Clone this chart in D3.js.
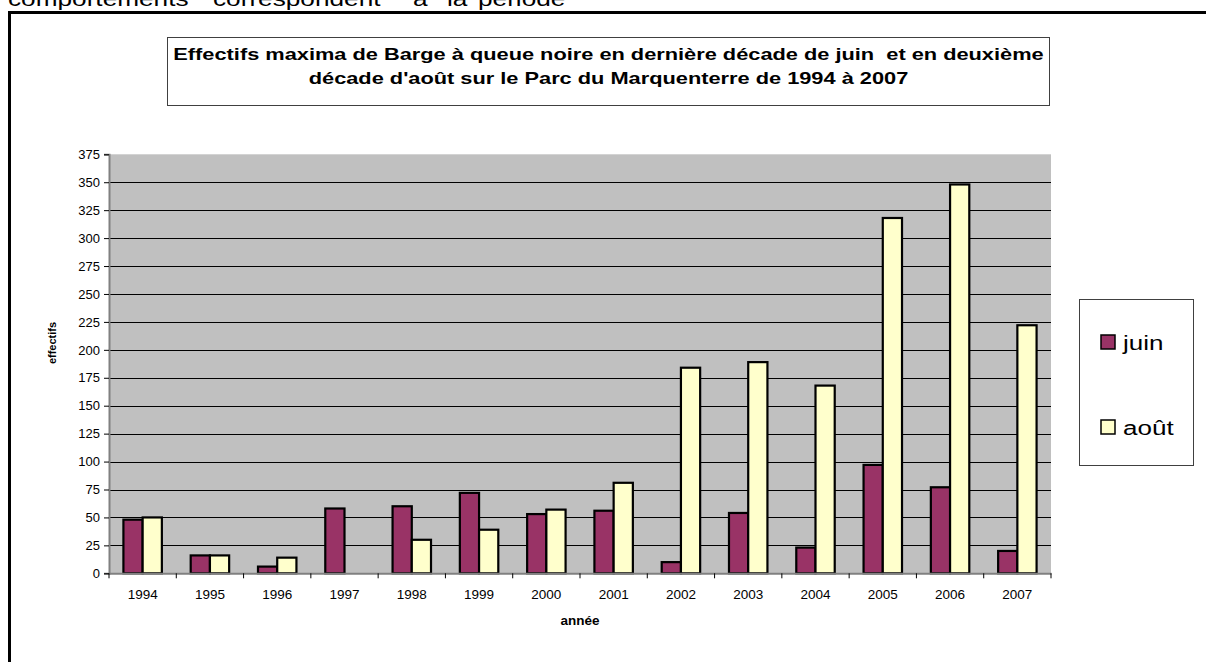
<!DOCTYPE html>
<html><head><meta charset="utf-8">
<script src="https://cdn.jsdelivr.net/npm/d3@7/dist/d3.min.js"></script>
<style>
html,body{margin:0;padding:0;background:#fff;overflow:hidden}
text{font-family:"Liberation Sans",Arial,Helvetica,sans-serif;white-space:pre}
</style></head>
<body>
<svg id="c" width="1206" height="662"></svg>
<script>
const years = ["1994","1995","1996","1997","1998","1999","2000","2001","2002","2003","2004","2005","2006","2007"];
const juin = [48,16,6,58,60,72,53,56,10,54,23,97,77,20];
const aout = [50,16,14,0,30,39,57,81,184,189,168,318,348,222];
const seriesNames = ["juin","août"];
const seriesColors = ["#993366","#FFFFCC"];
const yTicks = [0,25,50,75,100,125,150,175,200,225,250,275,300,325,350,375];
const titleLines = ["Effectifs maxima de Barge à queue noire en dernière décade de juin  et en deuxième",
                    "décade d'août sur le Parc du Marquenterre de 1994 à 2007"];
const topWords = ["comportements","correspondent","à","la","période"];

(function(){
const K = 1.31;
function stretch(sel, k){
  sel.each(function(){
    const l = this.getComputedTextLength();
    this.setAttribute("textLength", l*k);
    this.setAttribute("lengthAdjust","spacingAndGlyphs");
  });
}

const svg = d3.select("#c");
svg.append("rect").attr("width",1206).attr("height",662).attr("fill","#fff");

const topX = [8,213,413,447,478];
const tw = svg.append("g").selectAll("text").data(topWords).join("text")
  .attr("x",(d,i)=>topX[i]).attr("y",6).attr("font-size",20).attr("fill","#000").text(d=>d);
stretch(tw,K);

svg.append("rect").attr("x",9.5).attr("y",12.5).attr("width",1400).attr("height",900)
  .attr("fill","none").attr("stroke","#000").attr("stroke-width",3);

svg.append("rect").attr("x",167.5).attr("y",37.5).attr("width",882).attr("height",68)
  .attr("fill","#fff").attr("stroke","#404040").attr("stroke-width",1);
const tt = svg.append("g").selectAll("text").data(titleLines).join("text")
  .attr("x",608.5).attr("y",(d,i)=>60+i*24).attr("text-anchor","middle")
  .attr("font-size",16.5).attr("font-weight","bold").attr("fill","#000").text(d=>d);
stretch(tt,1.32);

const pL=109, pR=1051, pT=154.3, pB=573.3;
const x0 = d3.scaleBand().domain(years).range([pL,pR]).paddingInner(0).paddingOuter(0);
const x1 = d3.scaleBand().domain(seriesNames).range([0,x0.bandwidth()]).paddingInner(0).paddingOuter(0.75);
const y = d3.scaleLinear().domain([0,375]).range([pB,pT]);

svg.append("rect").attr("x",pL).attr("y",pT).attr("width",pR-pL).attr("height",pB-pT).attr("fill","#C0C0C0");

svg.append("g").selectAll("line").data(yTicks.filter(v=>v>0 && v<375)).join("line")
  .attr("x1",pL).attr("x2",pR).attr("y1",d=>Math.round(y(d))+0.5).attr("y2",d=>Math.round(y(d))+0.5)
  .attr("stroke","#000").attr("stroke-width",1);

const data = years.map((yr,i)=>({yr, vals:[{s:"juin",v:juin[i],c:seriesColors[0]},{s:"août",v:aout[i],c:seriesColors[1]}]}));
const g = svg.append("g").selectAll("g").data(data).join("g").attr("transform",d=>`translate(${x0(d.yr)},0)`);
g.selectAll("rect").data(d=>d.vals.filter(o=>o.v>0)).join("rect")
  .attr("x",d=>x1(d.s)).attr("width",x1.bandwidth())
  .attr("y",d=>y(d.v)).attr("height",d=>pB-y(d.v))
  .attr("fill",d=>d.c).attr("stroke","#000").attr("stroke-width",2.2);

const ya = svg.append("g").attr("transform",`translate(${pL},0)`)
  .call(d3.axisLeft(y).tickValues(yTicks).tickSize(5).tickPadding(4));
ya.select(".domain").attr("stroke","#808080").attr("stroke-width",2);
ya.selectAll(".tick line").attr("stroke","#000");
ya.selectAll("text").attr("font-size",13).attr("fill","#000").attr("font-family",null);

const xa = svg.append("g").attr("transform",`translate(0,${pB})`)
  .call(d3.axisBottom(x0).tickSize(0).tickPadding(16));
xa.select(".domain").attr("stroke","#808080").attr("stroke-width",2);
xa.selectAll("text").attr("font-size",13.5).attr("fill","#000").attr("font-family",null);
svg.append("g").selectAll("line").data(d3.range(years.length+1)).join("line")
  .attr("x1",i=>pL+i*x0.step()).attr("x2",i=>pL+i*x0.step())
  .attr("y1",pB).attr("y2",pB+5).attr("stroke","#000");

svg.append("text").attr("x",(pL+pR)/2).attr("y",625).attr("text-anchor","middle")
  .attr("font-size",13.5).attr("font-weight","bold").text("année");
svg.append("text").attr("transform","translate(56,343) rotate(-90)").attr("text-anchor","middle")
  .attr("font-size",11).attr("font-weight","bold").text("effectifs");

svg.append("rect").attr("x",1079.5).attr("y",299.5).attr("width",114).attr("height",166)
  .attr("fill","#fff").attr("stroke","#404040").attr("stroke-width",1);
const lg = svg.append("g").selectAll("g").data(seriesNames).join("g")
  .attr("transform",(d,i)=>`translate(1101,${335+i*85})`);
lg.append("rect").attr("width",14).attr("height",14).attr("fill",(d,i)=>seriesColors[i])
  .attr("stroke","#000").attr("stroke-width",1.5);
const lt = lg.append("text").attr("x",22).attr("y",15).attr("font-size",20).text(d=>d);
stretch(lt,1.3);
})();
</script>
</body></html>
